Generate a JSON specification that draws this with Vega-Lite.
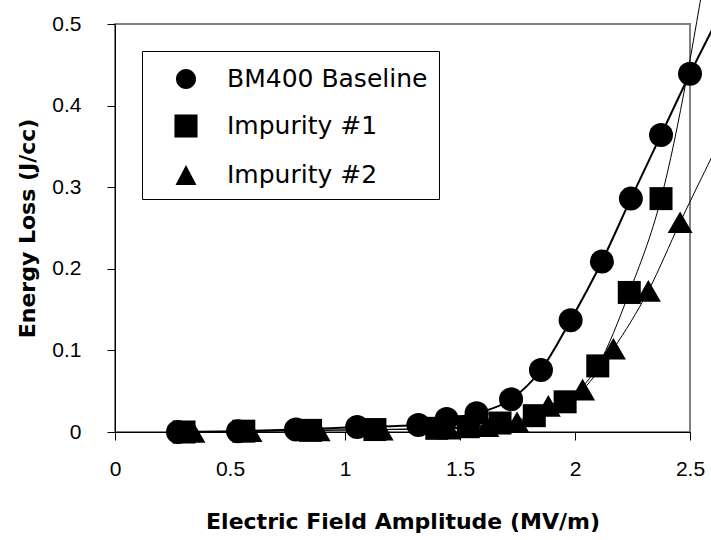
{
  "$schema": "https://vega.github.io/schema/vega-lite/v6.json",
  "autosize": {"type": "none"},
  "width": 575,
  "height": 408,
  "padding": {"left": 115, "top": 24, "right": 21, "bottom": 108},
  "background": "white",
  "config": {
    "view": {"stroke": "#808080", "strokeWidth": 2},
    "axis": {
      "domainColor": "black",
      "tickColor": "black",
      "grid": false,
      "labelFont": "Liberation Sans",
      "labelFontSize": 21,
      "labelColor": "black",
      "titleFont": "DejaVu Sans",
      "titleFontSize": 22,
      "titleFontWeight": "bold",
      "titleColor": "black",
      "tickSize": 8,
      "format": "~g"
    }
  },
  "data": {
    "values": [
      {"series": "BM400 Baseline", "x": 0.274, "y": 0.0, "pt": true},
      {"series": "BM400 Baseline", "x": 0.535, "y": 0.001, "pt": true},
      {"series": "BM400 Baseline", "x": 0.787, "y": 0.003, "pt": true},
      {"series": "BM400 Baseline", "x": 1.053, "y": 0.006, "pt": true},
      {"series": "BM400 Baseline", "x": 1.319, "y": 0.0086, "pt": true},
      {"series": "BM400 Baseline", "x": 1.442, "y": 0.016, "pt": true},
      {"series": "BM400 Baseline", "x": 1.572, "y": 0.023, "pt": true},
      {"series": "BM400 Baseline", "x": 1.722, "y": 0.04, "pt": true},
      {"series": "BM400 Baseline", "x": 1.852, "y": 0.076, "pt": true},
      {"series": "BM400 Baseline", "x": 1.981, "y": 0.137, "pt": true},
      {"series": "BM400 Baseline", "x": 2.117, "y": 0.209, "pt": true},
      {"series": "BM400 Baseline", "x": 2.243, "y": 0.286, "pt": true},
      {"series": "BM400 Baseline", "x": 2.374, "y": 0.364, "pt": true},
      {"series": "BM400 Baseline", "x": 2.5, "y": 0.439, "pt": true},
      {"series": "BM400 Baseline", "x": 2.6, "y": 0.495, "pt": false},
      {"series": "Impurity #1", "x": 0.3, "y": 0.0, "pt": true},
      {"series": "Impurity #1", "x": 0.56, "y": 0.001, "pt": true},
      {"series": "Impurity #1", "x": 0.85, "y": 0.002, "pt": true},
      {"series": "Impurity #1", "x": 1.13, "y": 0.003, "pt": true},
      {"series": "Impurity #1", "x": 1.399, "y": 0.0045, "pt": true},
      {"series": "Impurity #1", "x": 1.536, "y": 0.0065, "pt": true},
      {"series": "Impurity #1", "x": 1.674, "y": 0.011, "pt": true},
      {"series": "Impurity #1", "x": 1.823, "y": 0.02, "pt": true},
      {"series": "Impurity #1", "x": 1.957, "y": 0.037, "pt": true},
      {"series": "Impurity #1", "x": 2.099, "y": 0.081, "pt": true},
      {"series": "Impurity #1", "x": 2.236, "y": 0.171, "pt": true},
      {"series": "Impurity #1", "x": 2.374, "y": 0.286, "pt": true},
      {"series": "Impurity #1", "x": 2.6, "y": 0.62, "pt": false},
      {"series": "Impurity #2", "x": 0.339, "y": 0.0, "pt": true},
      {"series": "Impurity #2", "x": 0.587, "y": 0.001, "pt": true},
      {"series": "Impurity #2", "x": 0.883, "y": 0.002, "pt": true},
      {"series": "Impurity #2", "x": 1.157, "y": 0.003, "pt": true},
      {"series": "Impurity #2", "x": 1.45, "y": 0.004, "pt": true},
      {"series": "Impurity #2", "x": 1.617, "y": 0.007, "pt": true},
      {"series": "Impurity #2", "x": 1.748, "y": 0.012, "pt": true},
      {"series": "Impurity #2", "x": 1.884, "y": 0.032, "pt": true},
      {"series": "Impurity #2", "x": 2.033, "y": 0.052, "pt": true},
      {"series": "Impurity #2", "x": 2.167, "y": 0.102, "pt": true},
      {"series": "Impurity #2", "x": 2.319, "y": 0.173, "pt": true},
      {"series": "Impurity #2", "x": 2.457, "y": 0.257, "pt": true},
      {"series": "Impurity #2", "x": 2.6, "y": 0.34, "pt": false}
    ]
  },
  "encoding": {
    "x": {
      "field": "x", "type": "quantitative",
      "scale": {"domain": [0, 2.5], "nice": false, "zero": false},
      "axis": {"values": [0, 0.5, 1, 1.5, 2, 2.5], "title": "Electric Field Amplitude (MV/m)", "labelPadding": 18, "titlePadding": 32, "labelFlush": false, "labelOverlap": false}
    },
    "y": {
      "field": "y", "type": "quantitative",
      "scale": {"domain": [0, 0.5], "nice": false, "zero": false},
      "axis": {"values": [0, 0.1, 0.2, 0.3, 0.4, 0.5], "title": "Energy Loss (J/cc)", "labelPadding": 26, "titlePadding": 12, "labelFlush": false, "labelOverlap": false}
    }
  },
  "resolve": {"scale": {"shape": "independent"}, "legend": {"shape": "independent"}},
  "layer": [
    {
      "mark": {"type": "line", "interpolate": "monotone", "color": "black", "clip": false},
      "encoding": {
        "detail": {"field": "series"},
        "strokeWidth": {"condition": {"test": "datum.series === 'BM400 Baseline'", "value": 2}, "value": 1}
      }
    },
    {
      "transform": [{"filter": "datum.pt"}],
      "mark": {"type": "point", "filled": true, "opacity": 1, "color": "black", "clip": false},
      "encoding": {
        "shape": {
          "field": "series", "type": "nominal",
          "scale": {"domain": ["BM400 Baseline", "Impurity #1", "Impurity #2"], "range": ["circle", "square", "triangle-up"]},
          "legend": null
        },
        "size": {"condition": [{"test": "datum.series === 'Impurity #1'", "value": 529}, {"test": "datum.series === 'Impurity #2'", "value": 625}], "value": 576}
      }
    },
    {
      "transform": [{"filter": "datum.pt"}],
      "mark": {"type": "point", "filled": true, "opacity": 0, "fill": "black", "stroke": "black", "strokeWidth": 1.5, "clip": false},
      "encoding": {
        "shape": {
          "field": "series", "type": "nominal",
          "scale": {
            "domain": ["BM400 Baseline", "Impurity #1", "Impurity #2"],
            "range": [
              "M-2,0H2M0.625,0A0.625,0.625,0,1,1,-0.625,0A0.625,0.625,0,1,1,0.625,0Z",
              "M-2,0H2M-0.72,-0.72H0.72V0.72H-0.72Z",
              "M-2,0H2M0,-0.625L0.656,0.625L-0.656,0.625Z"
            ]
          },
          "legend": {
            "title": null,
            "orient": "none",
            "legendX": 27,
            "legendY": 27,
            "padding": 11,
            "strokeColor": "black",
            "fillColor": "white",
            "symbolSize": 1024,
            "symbolOpacity": 1,
            "symbolFillColor": "black",
            "symbolStrokeColor": "black",
            "symbolStrokeWidth": 1.5,
            "symbolOffset": 16,
            "labelOffset": 24,
            "rowPadding": 17,
            "labelFont": "DejaVu Sans",
            "labelFontSize": 25,
            "labelColor": "black",
            "labelLimit": 400
          }
        },
        "size": {"value": 100}
      }
    }
  ]
}
